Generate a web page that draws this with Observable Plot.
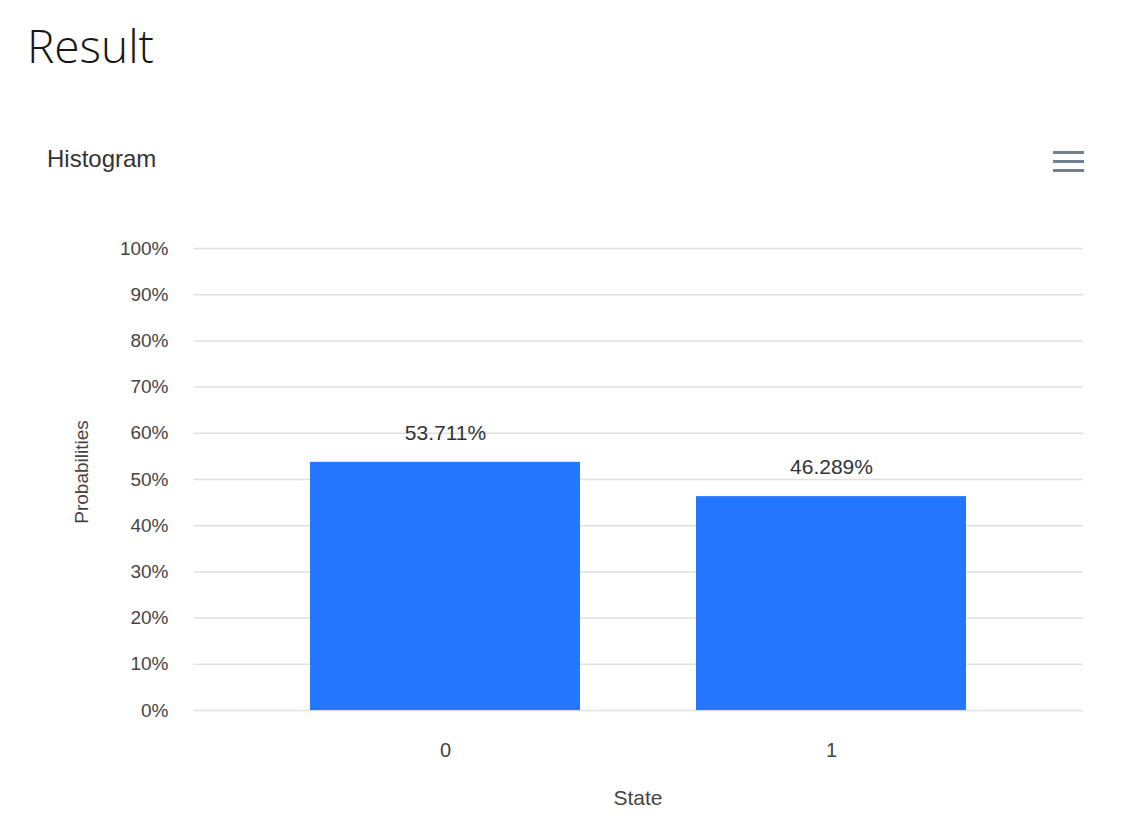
<!DOCTYPE html>
<html><head><meta charset="utf-8">
<script src="https://cdn.jsdelivr.net/npm/d3@7"></script>
<script src="https://cdn.jsdelivr.net/npm/@observablehq/plot@0.6"></script>
<style>
body{margin:0;background:#fff;font-family:"Liberation Sans",Arial,sans-serif;}
#wrap{position:relative;width:1127px;height:833px;}
#title{position:absolute;left:27px;top:14px;font-family:"Open Sans";font-weight:300;font-size:46px;color:#161616;}
#sub{position:absolute;left:47px;top:145px;font-size:24px;color:#333;}
#menu{position:absolute;left:1053px;top:151px;width:31px;}
#menu div{height:3px;background:#6e8192;margin-bottom:6px;}
#chart{position:absolute;left:0;top:200px;}
#ylab{position:absolute;left:82px;top:472px;transform:translate(-50%,-50%) rotate(-90deg);font-size:19px;color:#444;}
#xlab{position:absolute;left:638px;top:786px;transform:translateX(-50%);font-size:21px;color:#444;}
</style></head><body>
<div id="wrap">
<div id="title">Result</div>
<div id="sub">Histogram</div>
<div id="menu"><div></div><div></div><div></div></div>
<div id="chart"></div>
<div id="ylab">Probabilities</div>
<div id="xlab">State</div>
</div>
<script>
const states = ["0", "1"];
const probs = [53.711, 46.289];
const yTicks = [0,10,20,30,40,50,60,70,80,90,100];
const data = states.map((s, i) => ({state: s, p: probs[i]}));

const chart = Plot.plot({
  width: 1127, height: 620,
  marginLeft: 194, marginRight: 44, marginTop: 48, marginBottom: 110,
  style: {fontFamily: "Liberation Sans, Arial, sans-serif", fontSize: "19px", color: "#444"},
  x: {domain: states, padding: 0.3, label: null, tickSize: 0, tickPadding: 30},
  y: {domain: [0, 100], label: null},
  marks: [
    Plot.gridY(yTicks, {stroke: "#e0e0e0", strokeOpacity: 1, strokeWidth: 1.5}),
    Plot.axisY(yTicks, {tickFormat: d => d + "%", tickSize: 0, tickPadding: 26, fontSize: 19}),
    Plot.axisX({tickSize: 0, tickPadding: 32, fontSize: 20}),
    Plot.barY(data, {x: "state", y: "p", fill: "#2577ff"}),
    Plot.text(data, {x: "state", y: "p", text: d => d.p.toFixed(3) + "%", dy: -29, fontSize: 21, fill: "#333"})
  ]
});
document.getElementById("chart").append(chart);
</script>
</body></html>
